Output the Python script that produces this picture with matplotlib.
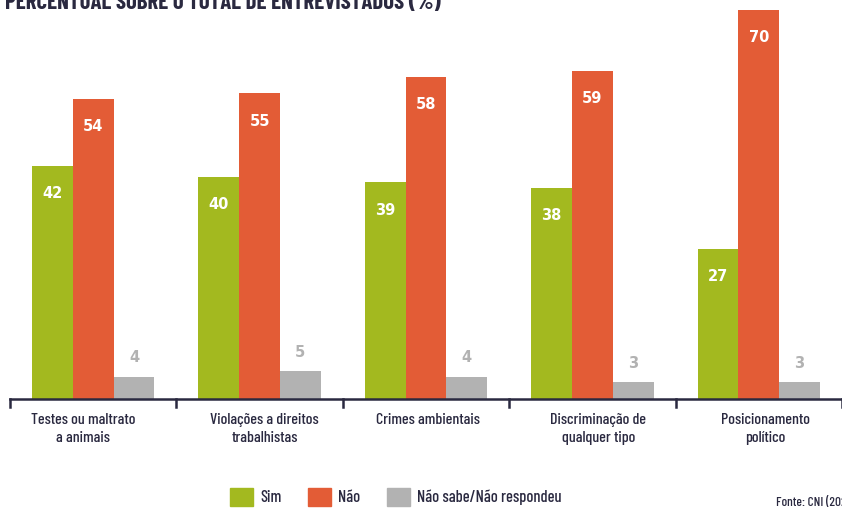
import matplotlib
matplotlib.use('Agg')
import matplotlib.pyplot as plt
import matplotlib.patches as mpatches
import numpy as np

categorias = ['Testes ou maltrato\na animais', 'Violações a direitos\ntrabalhistas',
              'Crimes ambientais', 'Discriminação de\nqualquer tipo', 'Posicionamento\npolítico']
sim = [42, 40, 39, 38, 27]
nao = [54, 55, 58, 59, 70]
ns_nr = [4, 5, 4, 3, 3]
series = ['Sim', 'Não', 'Não sabe/Não respondeu']

verde = '#a3b91f'
vermelho = '#e35c36'
cinza = '#b2b2b2'
escuro = '#2a2940'

plt.rcParams['font.family'] = ['Barlow Condensed', 'DejaVu Sans']
plt.rcParams['font.weight'] = 500

fig = plt.figure(figsize=(8.42, 5.09), dpi=100)
ax = fig.add_axes([10/842, 110/509, 832/842, 389/509])

x = np.arange(len(categorias)) + 0.5
w = 0.245
ax.bar(x - w, sim, w, color=verde)
ax.bar(x, nao, w, color=vermelho)
ax.bar(x + w, ns_nr, w, color=cinza)

rotulo = dict(ha='center', va='center', fontsize=10.5, fontweight='bold', family='DejaVu Sans')
for xi, v in zip(x - w, sim):
    ax.text(xi, v - 5, str(v), color='white', **rotulo)
for xi, v in zip(x, nao):
    ax.text(xi, v - 5, str(v), color='white', **rotulo)
for xi, v in zip(x + w, ns_nr):
    ax.text(xi, v + 3.4, str(v), color=cinza, **rotulo)

ax.set_xlim(0, 5)
ax.set_ylim(0, 70)
ax.set_yticks([])
ax.set_xticks([])
for s in ['top', 'right', 'left']:
    ax.spines[s].set_visible(False)
ax.spines['bottom'].set_color(escuro)
ax.spines['bottom'].set_linewidth(1.8)

# marcas entre grupos
for b in range(6):
    ax.plot([b, b], [0, -1.5], color=escuro, lw=1.8, clip_on=False)

# rótulos levemente deslocados como no original
desloc = [-0.06, 0.03, 0.01, 0.035, 0.04]
for xi, d, c in zip(x, desloc, categorias):
    ax.text(xi + d, -2.5, c, ha='center', va='top', color=escuro, fontsize=11.5,
            linespacing=1.38)

fig.text(5/842, 1 - 9/509, 'PERCENTUAL SOBRE O TOTAL DE ENTREVISTADOS (%)',
         ha='left', va='baseline', fontsize=16.5, fontweight=700, color=escuro)

handles = [mpatches.Patch(color=c) for c in [verde, vermelho, cinza]]
fig.legend(handles, series, loc='center', bbox_to_anchor=(396/842, 1 - 497/509),
           ncol=3, frameon=False, fontsize=11.8, handlelength=1.4, handleheight=1.4,
           columnspacing=1.6, handletextpad=0.45, labelcolor=escuro)

fig.text(776/842, 1 - 503/509, 'Fonte: CNI (2021)', ha='left', va='center',
         fontsize=9.5, color=escuro)

fig.savefig('out.png', dpi=100)
